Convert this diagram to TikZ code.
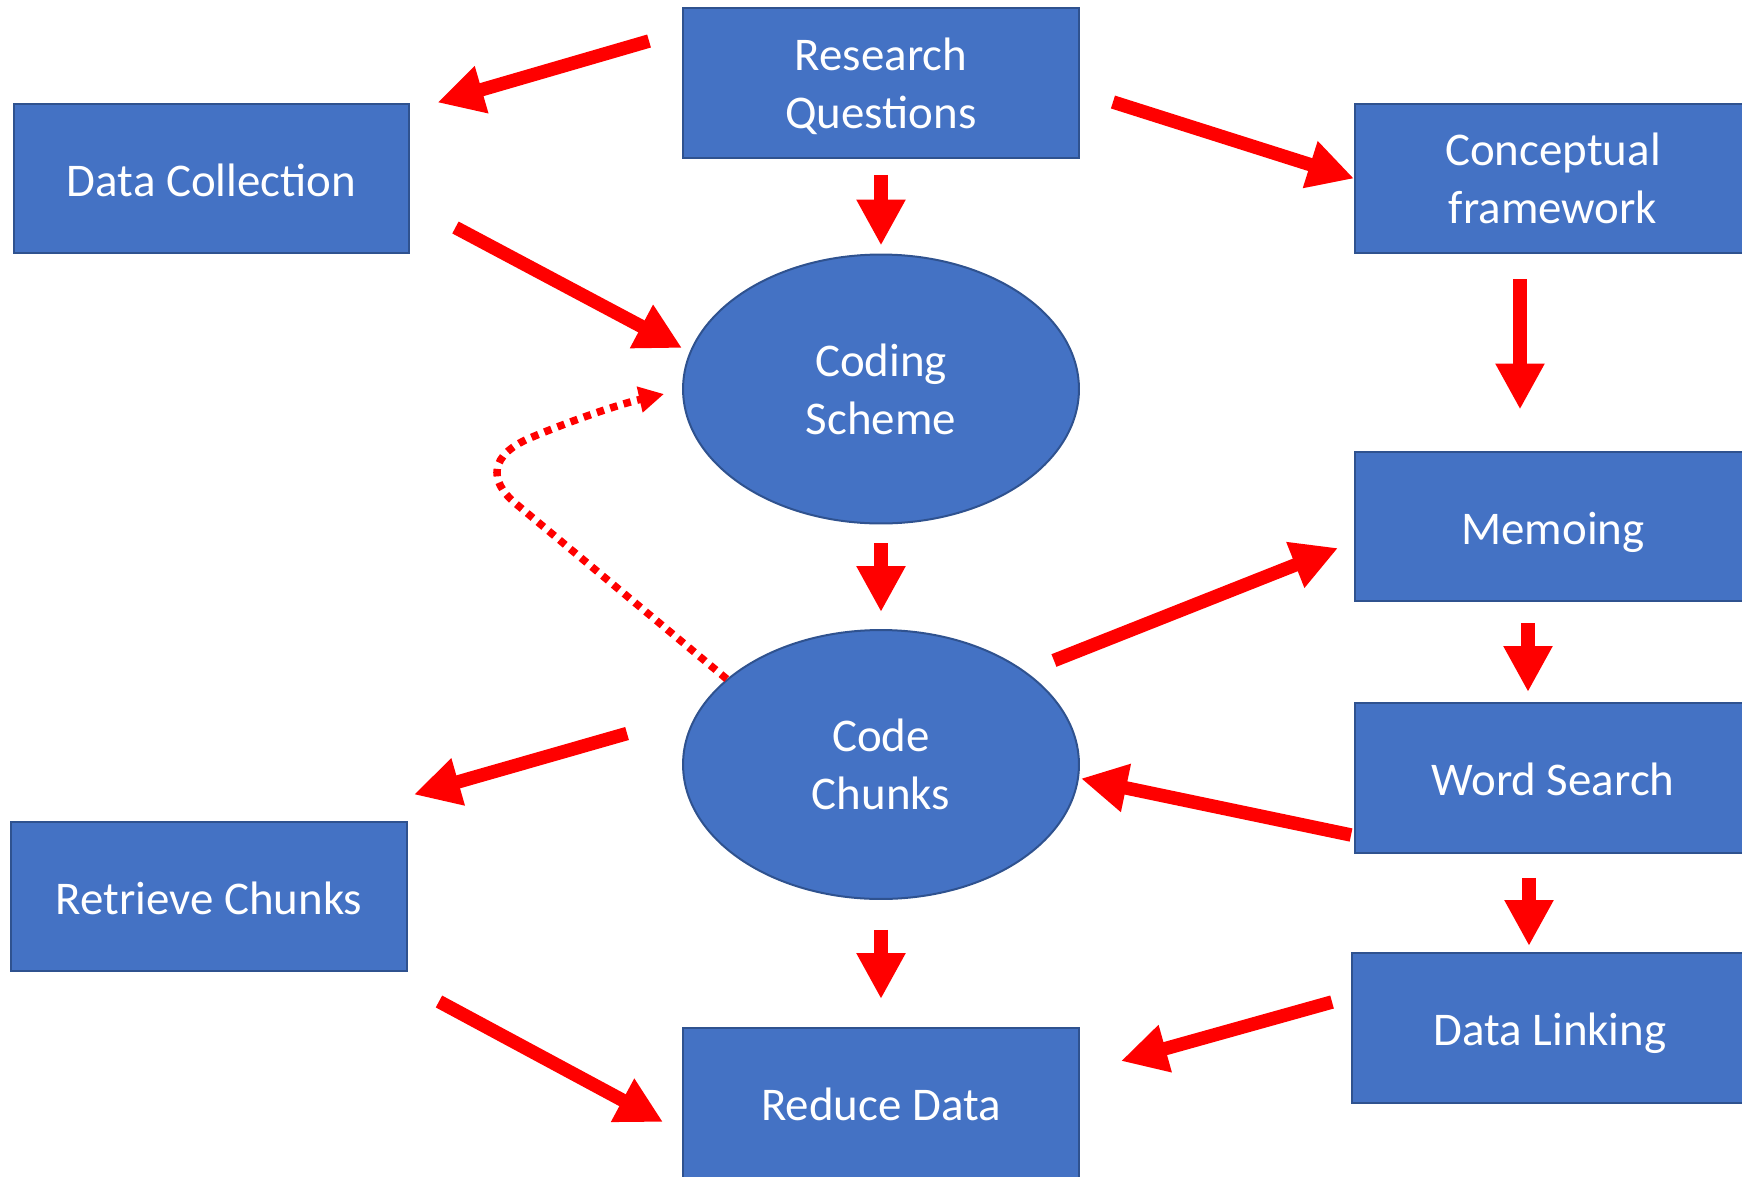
\documentclass[tikz,border=0pt]{standalone}
\usepackage{fontspec}
\setmainfont{Carlito}
\usetikzlibrary{arrows.meta,shapes.geometric,calc}
\definecolor{boxblue}{HTML}{4472C4}
\definecolor{edgeblue}{HTML}{2F528F}
\definecolor{arrred}{HTML}{FF0000}
\begin{document}
\begin{tikzpicture}[x=0.02cm,y=-0.02cm,
  box/.style={rectangle,draw=edgeblue,line width=0.04cm,fill=boxblue,text=white,
    minimum width=7.92cm,minimum height=3cm,align=center,inner sep=0pt,
    font=\fontsize{26.7pt}{33pt}\selectfont},
  one/.style={text height=26.5pt,text depth=6.4pt},
  oval/.style={box,ellipse,minimum width=7.92cm,minimum height=5.38cm},
  arr/.style={draw=arrred,line width=0.27cm,-{Triangle[length=0.92cm,width=0.92cm]}},
  dotarr/.style={draw=arrred,line width=0.15cm,dash pattern=on 0.15cm off 0.13cm,
    -{Triangle[length=0.5cm,width=0.5cm]}}]
\useasboundingbox (0,0) rectangle (1742,1177);
\clip (0,0) rectangle (1742,1177);

\node[box,text depth=0pt] (rq) at (881,83) {Research\\Questions};
\node[box,one] (dc) at (211.5,178.5) {Data Collection};
\node[box] (cf) at (1553,178.5) {Conceptual\\framework};
\node[oval] (cs) at (881,389) {Coding\\Scheme};
\node[box,one] (mm) at (1553,526.5) {Memoing};
\node[oval] (cc) at (881,764.5) {Code\\Chunks};
\node[box,one] (ws) at (1553,778) {Word Search};
\node[box,one] (rc) at (209,896.5) {Retrieve Chunks};
\node[box,one] (dl) at (1550,1028) {Data Linking};
\node[box,one] (rd) at (881,1103) {Reduce Data};

\draw[arr] ($(rq.north west)+(-33,34)$) -- ($(dc.north east)+(27,0)$);
\draw[arr] ($(rq.north east)+(33,95)$) -- (cf.west);
\draw[arr] ($(rq.south)+(0,16)$) -- ($(cs.north)+(0,-8)$);
\draw[arr] ($(dc.east)+(45,49)$) -- ($(cs.west)+(0,-41)$);
\draw[arr] ($(cf.south)+(-33,25)$) -- ($(mm.north)+(-33,-41)$);
\draw[arr] ($(cs.south)+(0,19)$) -- ($(cc.north)+(0,-17)$);
\draw[arr] ($(cc.east)+(-26,-104)$) -- ($(mm.west)+(-16,21.5)$);
\draw[arr] ($(mm.south)+(-25,21)$) -- ($(ws.north)+(-25,-10)$);
\draw[arr] ($(ws.west)+(-3,57)$) -- ($(cc.east)+(1,14)$);
\draw[arr] ($(cc.west)+(-55,-31)$) -- ($(rc.north east)+(6,-26)$);
\draw[arr] ($(ws.south)+(-24,24)$) -- ($(dl.north)+(-21,-6)$);
\draw[arr] ($(cc.south)+(0,30)$) -- ($(rd.north)+(0,-28)$);
\draw[arr] ($(rc.south east)+(31,29)$) -- ($(rd.west)+(-19,19)$);
\draw[arr] ($(dl.west)+(-19,-26)$) -- ($(rd.north east)+(41,34)$);

\draw[dotarr] (cc.151) -- (515,503) .. controls (488,480) and (490,455) .. (530,438)
  .. controls (570,421) and (620,404) .. ($(cs.west)+(-18,5)$);
\end{tikzpicture}
\end{document}
